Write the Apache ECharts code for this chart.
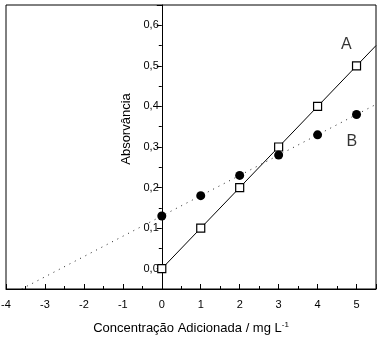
<!DOCTYPE html>
<html>
<head>
<meta charset="utf-8">
<script src="https://cdn.jsdelivr.net/npm/echarts@6/dist/echarts.min.js"></script>
<style>
  html, body { margin: 0; padding: 0; background: #fff; }
  #chart { width: 380px; height: 341px; }
</style>
</head>
<body>
<div id="chart"></div>
<script>
// Standard-addition data: added concentration (mg L-1) vs absorbance
const concentrations = [0, 1, 2, 3, 4, 5];
const absorbanceA = [0.00, 0.10, 0.20, 0.30, 0.40, 0.50];
const absorbanceB = [0.13, 0.18, 0.23, 0.28, 0.33, 0.38];

// Regression line end points (x, y)
const fitA = [[0, 0], [5.5, 0.55]];
const fitB = [[-3.6, -0.05], [5.5, 0.405]];

// Curve labels and their anchor positions in data units
const curveNames = ['A', 'B'];
const curveLabelPos = [[4.74, 0.552], [4.88, 0.313]];

const xRange = [-4, 5.5];
const yRange = [-0.05, 0.65];

const font = 'Liberation Sans, Arial, sans-serif';
const gridLeft = 6;

const chart = echarts.init(document.getElementById('chart'));

const zip = (xs, ys) => xs.map((x, i) => [x, ys[i]]);

chart.setOption({
  animation: false,
  backgroundColor: '#fff',
  grid: {
    left: gridLeft, right: 4, top: 5, bottom: 52,
    containLabel: false, outerBoundsMode: 'none',
    show: true, borderColor: '#000', borderWidth: 1, backgroundColor: 'transparent'
  },
  xAxis: {
    type: 'value',
    min: xRange[0], max: xRange[1], interval: 1,
    axisLine: { onZero: false, lineStyle: { color: '#000', width: 1 } },
    axisTick: { inside: true, length: 5, lineStyle: { color: '#000' } },
    minorTick: { show: true, splitNumber: 2, length: 3, lineStyle: { color: '#000' } },
    splitLine: { show: false },
    axisLabel: {
      color: '#000', fontFamily: font, fontSize: 11, margin: 10,
      showMaxLabel: false,
      formatter: v => Number.isInteger(v) ? String(v) : ''
    },
    name: 'Concentração Adicionada / mg L{sup|-1}',
    nameLocation: 'middle', nameGap: 32,
    nameTextStyle: {
      color: '#000', fontFamily: font, fontSize: 13,
      rich: { sup: { fontSize: 8, fontFamily: font, color: '#000', padding: [0, 0, 7, 0] } }
    }
  },
  yAxis: {
    type: 'value',
    min: yRange[0], max: yRange[1],
    axisLine: { onZero: false, lineStyle: { color: '#000', width: 1 } },
    axisTick: { inside: false, length: 5, lineStyle: { color: '#000' } },
    minorTick: { show: true, splitNumber: 2, length: 3, lineStyle: { color: '#000' } },
    splitLine: { show: false },
    axisLabel: {
      color: '#000', fontFamily: font, fontSize: 11, margin: 3,
      formatter: v => {
        const k = Math.round(v * 10);
        return Math.abs(v * 10 - k) < 1e-6 && k >= 0 ? (k / 10).toFixed(1).replace('.', ',') : '';
      }
    },
    name: 'Absorvância',
    nameLocation: 'middle', nameGap: 28, nameRotate: 90,
    nameTextStyle: { color: '#000', fontFamily: font, fontSize: 13, padding: [0, 0, 0, 36] }
  },
  series: [
    {
      type: 'line', data: fitA, showSymbol: false, silent: true,
      lineStyle: { color: '#000', width: 1 }, z: 2
    },
    {
      type: 'line', data: fitB, showSymbol: false, silent: true,
      lineStyle: { color: '#222', width: 1, type: [1, 5] }, z: 2
    },
    {
      type: 'scatter', data: zip(concentrations, absorbanceA),
      symbol: 'rect', symbolSize: 8,
      itemStyle: { color: '#fff', borderColor: '#000', borderWidth: 1.2, opacity: 1 }, z: 3
    },
    {
      type: 'scatter', data: zip(concentrations, absorbanceB),
      symbol: 'circle', symbolSize: 9,
      itemStyle: { color: '#000', opacity: 1 }, z: 3
    },
    {
      type: 'scatter', silent: true, symbolSize: 0,
      data: curveNames.map((n, i) => ({ name: n, value: curveLabelPos[i] })),
      label: {
        show: true, position: 'inside', formatter: '{b}',
        color: '#000', fontFamily: font, fontSize: 16
      }, z: 4
    }
  ]
});

// Shift the y axis so it crosses the x axis at zero concentration
const zeroX = chart.convertToPixel({ xAxisIndex: 0 }, 0);
chart.setOption({ yAxis: { offset: -(zeroX - gridLeft) } });
</script>
</body>
</html>
